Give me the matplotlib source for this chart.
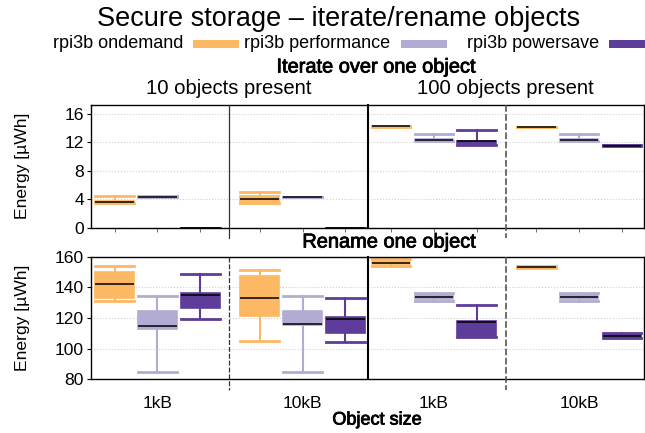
import matplotlib
matplotlib.use("Agg")
import matplotlib.pyplot as plt
from matplotlib.patches import Rectangle
import matplotlib.transforms as mtransforms
import matplotlib.patheffects as pe

plt.rcParams['font.family'] = ['Liberation Sans', 'DejaVu Sans']

# ---- data -------------------------------------------------------------
governors = ["rpi3b ondemand", "rpi3b performance", "rpi3b powersave"]
colors = ["#FDB863", "#B2ABD2", "#5E3C99"]
sizes = ["1kB", "10kB", "1kB", "10kB"]
facets = ["10 objects present", "100 objects present"]

# (whisker low, q1, median, q3, whisker high) per size group, per governor
iterate_ondemand = [(3.50, 3.55, 3.65, 3.80, 4.47), (3.40, 3.50, 4.00, 4.40, 4.95),
                    (14.15, 14.18, 14.20, 14.22, 14.25), (14.08, 14.10, 14.13, 14.16, 14.18)]
iterate_performance = [(4.30, 4.32, 4.34, 4.37, 4.40), (4.25, 4.28, 4.30, 4.33, 4.35),
                       (12.20, 12.25, 12.36, 12.50, 13.15), (12.20, 12.25, 12.36, 12.50, 13.15)]
iterate_powersave = [(0.00, 0.005, 0.01, 0.015, 0.02), (0.00, 0.005, 0.01, 0.015, 0.02),
                     (11.60, 11.75, 12.13, 12.20, 13.76), (11.45, 11.48, 11.52, 11.55, 11.58)]

rename_ondemand = [(131.3, 133.0, 142.0, 149.8, 154.1), (105.2, 121.3, 133.3, 147.2, 151.3),
                   (154.1, 155.0, 155.7, 157.0, 158.3), (152.8, 153.1, 153.5, 153.9, 154.2)]
rename_performance = [(84.8, 112.8, 115.0, 124.6, 134.6), (84.8, 115.4, 116.3, 124.6, 134.6),
                      (130.9, 132.3, 133.5, 134.8, 136.1), (131.3, 132.5, 133.5, 135.0, 136.5)]
rename_powersave = [(119.6, 126.3, 135.0, 136.1, 148.7), (104.5, 110.4, 119.1, 120.8, 133.1),
                    (107.4, 108.5, 117.6, 118.0, 128.7), (106.8, 107.3, 108.0, 108.8, 110.4)]

iterate_ticks = [0, 4, 8, 12, 16]
rename_ticks = [80, 100, 120, 140, 160]

# ---- layout -----------------------------------------------------------
W, H = 645, 433
group_centers = [0.48, 1.53, 2.48, 3.53]
offsets = [-0.31, 0.0, 0.31]
box_w = 0.28

fig = plt.figure(figsize=(W / 100, H / 100), dpi=100)


def fx(px):
    return px / W


def fy(py):
    return 1 - py / H


left, right = fx(91), fx(644)
ax_top = fig.add_axes([left, fy(227.7), right - left, fy(105) - fy(227.7)])
ax_bot = fig.add_axes([left, fy(379.3), right - left, fy(256.7) - fy(379.3)])


def draw_boxes(ax, series):
    for gi, (vals, col) in enumerate(zip(series, colors)):
        stats = []
        pos = []
        for ci, (lo, q1, med, q3, hi) in enumerate(vals):
            stats.append(dict(whislo=lo, q1=q1, med=med, q3=q3, whishi=hi, fliers=[]))
            pos.append(group_centers[ci] + offsets[gi])
        ax.bxp(stats, positions=pos, widths=box_w, patch_artist=True,
               showfliers=False, capwidths=box_w, manage_ticks=False,
               boxprops=dict(facecolor=col, edgecolor=col, linewidth=1.2),
               whiskerprops=dict(color=col, linewidth=1.5),
               capprops=dict(color=col, linewidth=2.0),
               medianprops=dict(color="black", linewidth=1.1, solid_capstyle="butt"))


draw_boxes(ax_top, [iterate_ondemand, iterate_performance, iterate_powersave])
draw_boxes(ax_bot, [rename_ondemand, rename_performance, rename_powersave])

for ax, ticks, lim in [(ax_top, iterate_ticks, (0, 17.2)), (ax_bot, rename_ticks, (80, 160))]:
    ax.set_xlim(0, 4)
    ax.set_ylim(*lim)
    ax.set_yticks(ticks)
    ax.tick_params(axis="y", labelsize=12.6, length=3, width=0.8, pad=2)
    ax.yaxis.grid(True, color="#d0d0d0", linestyle=":", linewidth=0.8)
    ax.set_axisbelow(True)
    for sp in ax.spines.values():
        sp.set_linewidth(1.0)
        sp.set_color("black")
    ax.plot([2, 2], [1, 0], transform=mtransforms.blended_transform_factory(
        ax.transData, ax.transAxes), color="black", linewidth=1.5,
        clip_on=False, zorder=5)

# separators between the two object sizes inside each facet
for ax, style in [(ax_top, "-"), (ax_bot, (0, (4, 1.5)))]:
    trans = mtransforms.blended_transform_factory(ax.transData, ax.transAxes)
    ax.plot([1, 1], [1, -0.085], transform=trans, color="#333333",
            linewidth=0.9, linestyle=style, clip_on=False, zorder=5)
    ax.plot([3, 3], [1, -0.085], transform=trans, color="#555555",
            linewidth=1.2, linestyle=(0, (4, 1.5)), clip_on=False, zorder=5)

# top panel: small ticks under each box, no labels
box_positions = [c + o for c in group_centers for o in offsets]
ax_top.set_xticks(box_positions)
ax_top.set_xticklabels([])
ax_top.tick_params(axis="x", length=3, width=0.6, color="#555555")

# bottom panel: size labels
ax_bot.set_xticks(group_centers)
ax_bot.set_xticklabels(sizes, fontsize=12.6)
ax_bot.tick_params(axis="x", length=0, pad=12)

# ---- text -------------------------------------------------------------
medium = [pe.withStroke(linewidth=0.6, foreground="black")]
fig.text(fx(339), fy(19), "Secure storage \u2013 iterate/rename objects",
         ha="center", va="center", fontsize=19.5)
fig.text(fx(376), fy(67), "Iterate over one object", ha="center", va="center",
         fontsize=14.4, path_effects=medium)
fig.text(fx(229), fy(89), facets[0], ha="center", va="center", fontsize=14.6)
fig.text(fx(505.5), fy(89), facets[1], ha="center", va="center", fontsize=14.6)
fig.text(fx(389), fy(242), "Rename one object", ha="center", va="center",
         fontsize=14.4, path_effects=medium)
fig.text(fx(377), fy(420), "Object size", ha="center", va="center",
         fontsize=13, path_effects=medium)
for yc in (166, 318):
    fig.text(fx(23), fy(yc), "Energy [\u00b5Wh]", ha="center", va="center",
             rotation=90, fontsize=12.6)

# ---- legend (label followed by colour key) ----------------------------
label_right = [183, 390, 599]
key_left = [193, 401, 609]
for name, col, lr, kl in zip(governors, colors, label_right, key_left):
    fig.text(fx(lr), fy(44), name, ha="right", va="center", fontsize=13)
    fig.add_artist(Rectangle((fx(kl), fy(48)), 46 / W, 8 / H, transform=fig.transFigure,
                             facecolor=col, edgecolor="none"))

fig.savefig("out.png", dpi=100)
